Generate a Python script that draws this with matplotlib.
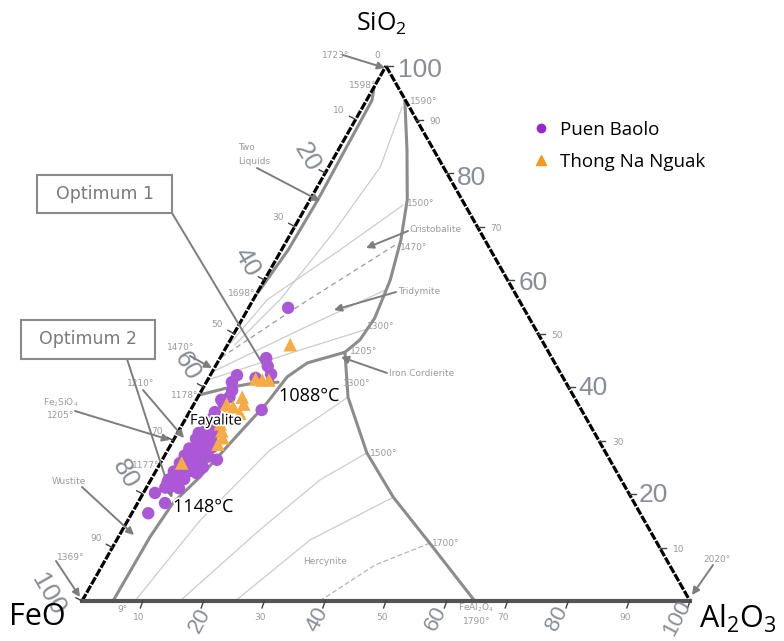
import matplotlib
matplotlib.use('Agg')
import matplotlib.pyplot as plt
import matplotlib.patheffects as pe
from matplotlib.lines import Line2D

plt.rcParams['font.family'] = ['Open Sans', 'DejaVu Sans']
plt.rcParams['mathtext.fontset'] = 'custom'
plt.rcParams['mathtext.rm'] = 'Open Sans'
plt.rcParams['mathtext.it'] = 'Open Sans'

# sample compositions, wt% (SiO2, Al2O3); FeO = rest
puen_sio2 = [54.8, 45.4, 43.9, 42.4, 41.7, 42.2, 40.9, 39.4, 38.1, 35.7, 35.3, 34.2,
             26.4, 25.0, 20.2, 18.3, 16.4, 22.1, 21.5,
             33.1, 32.7, 33.0, 31.4, 31.8, 31.5, 30.3, 29.9, 30.2, 28.5, 28.8, 28.4,
             28.7, 27.2, 26.9, 27.3, 27.0, 25.8, 25.5, 25.7, 25.4, 24.2, 24.0, 24.3,
             23.9, 22.7, 22.4, 22.8, 21.2, 21.5, 21.1, 33.8, 36.9, 37.6,
             29.5, 26.1, 23.4, 32.2, 27.8]
puen_al2o3 = [6.5, 7.6, 8.6, 9.9, 7.7, 4.4, 4.2, 5.0, 5.2, 11.7, 4.2, 4.4,
              9.0, 7.4, 1.9, 4.5, 2.7, 3.0, 4.9,
              3.9, 5.0, 5.8, 3.5, 4.8, 6.2, 3.6, 4.9, 6.1, 3.4, 4.7, 6.0,
              7.0, 3.3, 4.8, 5.9, 7.3, 3.2, 4.5, 6.1, 7.0, 3.0, 4.5, 5.6,
              6.9, 2.9, 4.1, 5.4, 3.1, 4.2, 5.4, 5.1, 4.8, 4.1,
              5.5, 5.3, 3.6, 4.4, 4.0]

thong_sio2 = [47.9, 41.5, 41.3, 41.3, 36.8, 36.3, 38.1, 36.8, 35.1, 34.8, 33.1,
              31.8, 30.5, 29.3, 25.8]
thong_al2o3 = [10.3, 7.8, 9.0, 10.1, 5.4, 6.7, 7.3, 8.2, 8.4, 6.1, 6.2,
               7.1, 7.9, 7.7, 3.5]

# phase boundaries (SiO2, Al2O3)
two_liquid = [(96.1, 0.0), (93.6, 0.9), (84.3, 1.1), (75.0, 1.3), (65.6, 1.1), (57.6, 0.1)]
silica_liquidus = [(93.6, 6.3), (84.3, 11.3), (75.0, 16.0), (67.5, 18.7), (60.0, 20.7),
                   (52.9, 21.7), (48.8, 21.3), (46.5, 20.0)]
hercynite_bound = [(46.5, 20.0), (38.1, 24.7), (27.7, 33.0), (19.4, 41.5), (10.8, 51.8), (0.0, 64.6)]
wustite_bound = [(0.0, 5.1), (12.0, 5.2), (18.3, 5.8), (23.2, 7.8), (30.1, 9.8), (37.0, 11.9),
                 (41.9, 12.8), (44.5, 14.8), (46.5, 20.0)]
fayalite_trid = [(38.5, 0.0), (39.8, 3.9), (40.6, 7.3), (40.9, 11.8)]

iso_silica = [
    [(92.3, 6.5), (81.1, 8.5), (68.8, 6.9), (56.3, 4.4), (47.9, 1.2)],
    [(74.0, 15.8), (65.6, 9.6), (56.3, 2.3), (46.9, 0.0)],
    [(58.1, 20.8), (50.7, 10.5), (42.8, 0.0)],
    [(50.7, 21.2), (46.9, 12.4), (41.3, 0.0)],
]
iso_dashed = [(66.5, 18.2), (55.3, 8.2), (45.6, 0.2)]
iso_hercynite = [
    [(0.0, 8.7), (15.1, 11.9), (28.2, 16.8), (38.1, 24.7)],
    [(0.0, 16.1), (13.3, 22.6), (22.6, 27.8), (27.7, 33.0)],
    [(0.0, 25.2), (11.4, 31.8), (19.4, 41.5)],
]
iso_1700 = [(0.0, 39.1), (6.7, 44.8), (10.8, 51.8)]

tick_vals = [10, 20, 30, 40, 50, 60, 70, 80, 90, 100]
major_vals = [20, 40, 60, 80, 100]


def tern(pts):
    pts = list(pts)
    xs = [a / 100 + s / 200 for s, a in pts]
    ys = [s / 100 for s, a in pts]
    return xs, ys


def px(x, y):
    return (x - 82) / 608, (601 - y) / 535


fig = plt.figure(figsize=(7.84, 6.41), dpi=100)
ax = fig.add_axes([0, 0, 1, 1])
ax.set_xlim(-82 / 608, 702 / 608)
ax.set_ylim(-40 / 535, 601 / 535)
ax.axis('off')

gray = '#8c8c8c'
thin = '#cccccc'
lbl = '#9a9a9a'

# isotherms
for c in iso_silica + iso_hercynite:
    ax.plot(*tern(c), color=thin, lw=0.9, zorder=1)
ax.plot(*tern(iso_dashed), color='#9a9a9a', lw=0.9, ls=(0, (4, 3)), zorder=1)
ax.plot(*tern(iso_1700), color='#b5b5b5', lw=0.9, ls=(0, (4, 2)), zorder=1)

# phase boundaries
for c in [two_liquid, silica_liquidus, hercynite_bound, wustite_bound, fayalite_trid]:
    ax.plot(*tern(c), color=gray, lw=2.2, solid_capstyle='round', zorder=2)

# triangle edges
ax.plot(*tern([(0, 0), (100, 0)]), color='black', lw=2.3, ls=(0, (2.5, 0.5)), zorder=3)
ax.plot(*tern([(100, 0), (0, 100)]), color='black', lw=2.3, ls=(0, (2.5, 0.5)), zorder=3)
ax.plot(*tern([(0, 0), (0, 100)]), color='#555555', lw=3, zorder=3)

# edge ticks and small labels
for v in tick_vals:
    x, y = tern([(100 - v, 0)])          # left edge, FeO %
    x2, y2 = tern([(v, 100 - v)])        # right edge, SiO2 %
    x3, y3 = tern([(0, v)])              # bottom edge, Al2O3 %
    ax.plot([x[0], x[0] - 0.010], [y[0], y[0] + 0.006], color='#444', lw=1, zorder=3)
    ax.plot([x2[0], x2[0] + 0.011], [y2[0], y2[0]], color='#444', lw=1, zorder=3)
    ax.plot([x3[0], x3[0] - 0.004], [y3[0], y3[0] - 0.013], color='#444', lw=1, zorder=3)
    if v not in major_vals:
        ax.text(x[0] - 0.018, y[0] + 0.016, str(v), fontsize=6.5, color=lbl,
                family='DejaVu Sans', ha='right', va='center')
        ax.text(x2[0] + 0.022, y2[0] - 0.004, str(v), fontsize=6.5, color=lbl,
                family='DejaVu Sans', ha='left', va='center')
        ax.text(x3[0] - 0.007, y3[0] - 0.030, str(v), fontsize=6.5, color=lbl,
                family='DejaVu Sans', ha='center', va='center')

big = dict(color='#8a8d96', family='Liberation Sans', ha='center', va='center')
left_pos = {20: (307, 157), 40: (247, 262), 60: (187, 366), 80: (125, 474), 100: (48, 594)}
bottom_pos = {20: (200, 620), 40: (317, 619), 60: (436, 618), 80: (557, 618), 100: (677, 618)}
right_pos = {100: (420, 70), 80: (472, 178), 60: (533, 283), 40: (593, 388), 20: (653, 495)}
for v in major_vals:
    ax.text(*px(*left_pos[v]), str(v), rotation=-60, fontsize=19, **big)
    ax.text(*px(*bottom_pos[v]), str(v), rotation=62, fontsize=16, **big)
    ax.text(*px(*right_pos[v]), str(v), fontsize=19, **big)

# corner labels
ax.text(*px(381, 24), 'SiO$_2$', fontsize=18, ha='center', va='center')
ax.text(*px(37, 617), 'FeO', fontsize=22, ha='center', va='center')
ax.text(*px(738, 619), 'Al$_2$O$_3$', fontsize=22, ha='center', va='center')

# small phase-diagram annotations
small = [
    ('1723°', 322, 55), ('0', 374, 56), ('1598°', 349, 85), ('1590°', 410, 102),
    ('Two', 238, 148), ('Liquids', 238, 162), ('1698°', 228, 293),
    ('1500°', 407, 203), ('Cristobalite', 410, 229), ('1470°', 400, 247),
    ('Tridymite', 398, 292), ('1300°', 367, 326), ('1205°', 350, 352),
    ('Iron Cordierite', 389, 373), ('1300°', 343, 384), ('1470°', 167, 347),
    ('1178°', 171, 396), ('1210°', 127, 383), ('Fe$_2$SiO$_4$', 43, 403), ('1205°', 47, 416),
    ('1177°', 132, 466), ('Wustite', 52, 482), ('1369°', 57, 557), ('9°', 117, 610),
    ('1500°', 370, 453), ('Hercynite', 303, 562), ('1700°', 432, 543),
    ('FeAl$_2$O$_4$', 458, 608), ('1790°', 463, 622), ('2020°', 703, 560),
]
for s, x, y in small:
    ax.text(*px(x, y), s, fontsize=6.5, color=lbl, family='DejaVu Sans', ha='left', va='center')

arrow_kw = dict(arrowstyle='-|>', color='#7d7d7d', lw=1.4, mutation_scale=11,
                shrinkA=0, shrinkB=0)
arrows = [
    ((343, 55), (385, 68)), ((257, 168), (320, 201)), ((408, 231), (366, 248)),
    ((396, 292), (334, 310)), ((387, 373), (341, 357)), ((190, 356), (212, 368)),
    ((143, 390), (184, 438)), ((75, 411), (170, 440)), ((82, 487), (134, 535)),
    ((56, 561), (80, 597)), ((713, 565), (692, 595)),
    ((172, 213), (274, 383)), ((127, 359), (172, 498)),
]
for (x0, y0), (x1, y1) in arrows:
    ax.annotate('', xy=px(x1, y1), xytext=px(x0, y0), arrowprops=arrow_kw, zorder=4)

# optimum boxes
for s, (x0, y0, x1, y1) in [('Optimum 1', (37, 175, 172, 213)), ('Optimum 2', (21, 320, 155, 359))]:
    ax.add_patch(plt.Rectangle(px(x0, y1), (x1 - x0) / 608, (y1 - y0) / 535,
                               fill=True, fc='white', ec='#8a8a8a', lw=1.5, zorder=5))
    ax.text(*px((x0 + x1) / 2, (y0 + y1) / 2), s, fontsize=12.5, color='#7a7a7a',
            family='DejaVu Sans', ha='center', va='center', zorder=6)

# samples
ax.scatter(*tern(zip(puen_sio2, puen_al2o3)), s=80, color='#ab58d6', edgecolors='none', zorder=6)
ax.scatter(*tern(zip(thong_sio2, thong_al2o3)), s=95, marker='^', color='#f6ac45',
           edgecolors='none', zorder=7)

halo = [pe.withStroke(linewidth=2.5, foreground='white')]
ax.text(*px(279, 396), '1088°C', fontsize=13, ha='left', va='center', zorder=8, path_effects=halo)
ax.text(*px(173, 507), '1148°C', fontsize=13, ha='left', va='center', zorder=8, path_effects=halo)
ax.text(*px(190, 421), 'Fayalite', fontsize=10.5, ha='left', va='center', zorder=8, path_effects=halo)

handles = [Line2D([], [], ls='none', marker='o', ms=6, color='#9727cc', label='Puen Baolo'),
           Line2D([], [], ls='none', marker='^', ms=7, color='#f39a1c', label='Thong Na Nguak')]
ax.legend(handles=handles, loc='upper left', bbox_to_anchor=px(515, 104),
          bbox_transform=ax.transData, frameon=False, fontsize=13.5,
          handlelength=1, handletextpad=0.5, labelspacing=0.75)

fig.savefig('out.png', dpi=100)
